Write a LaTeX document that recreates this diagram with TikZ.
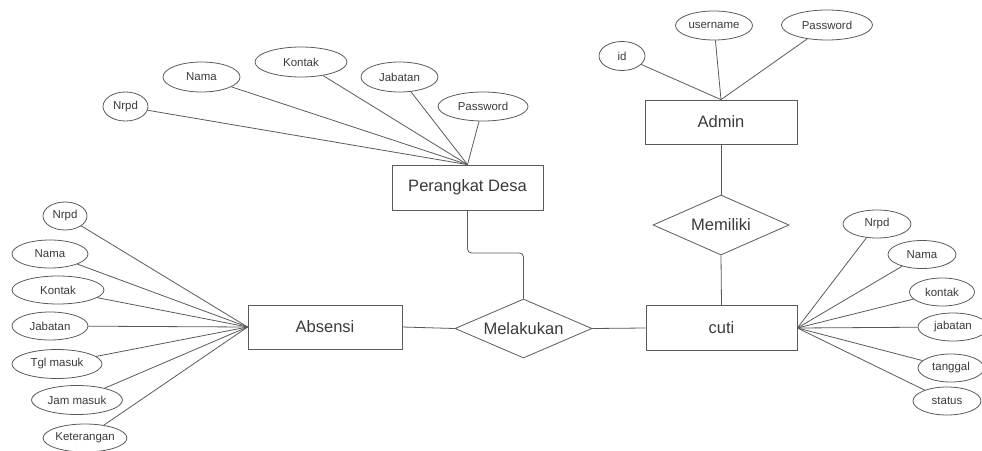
\documentclass[tikz,border=0pt]{standalone}
\usepackage{fontspec}
\setmainfont{Liberation Sans}
\usetikzlibrary{shapes.geometric}
\definecolor{ln}{HTML}{5A5A5A}
\definecolor{tx}{HTML}{3A3A3A}
\begin{document}
\begin{tikzpicture}[x=0.75pt,y=-0.75pt,
  wh/.style 2 args={minimum width=#1*0.75pt, minimum height=#2*0.75pt},
  attr/.style={draw=ln, ellipse, inner sep=0pt, text=tx, line width=0.6pt, font=\fontsize{8.6}{10}\selectfont},
  ent/.style={draw=ln, rectangle, inner sep=0pt, text=tx, line width=0.6pt, font=\fontsize{12.4}{14}\selectfont},
  rel/.style={draw=ln, diamond, aspect=2.3, inner sep=0pt, text=tx, line width=0.6pt, font=\fontsize{12.4}{14}\selectfont},
  conn/.style={draw=ln, line width=0.6pt}]
\useasboundingbox (0,0) rectangle (982,450);

% entities
\node[ent, wh={151}{45}] (pd) at (467.5,187.5) {Perangkat Desa};
\node[ent, wh={152}{44}] (admin) at (721,122) {Admin};
\node[ent, wh={154}{44}] (abs) at (325,327) {Absensi};
\node[ent, wh={151}{45}] (cuti) at (721.5,328) {cuti};

% relations
\node[rel, wh={136}{60}] (mem) at (721,225) {Memiliki};
\node[rel, wh={137}{59}] (mel) at (523.5,328.5) {Melakukan};

% Perangkat Desa attributes
\node[attr, wh={45}{29}] (pd1) at (125.5,106.5) {Nrpd};
\node[attr, wh={77}{30}] (pd2) at (201.5,77) {Nama};
\node[attr, wh={92}{30}] (pd3) at (301,62) {Kontak};
\node[attr, wh={77}{30}] (pd4) at (399.5,77) {Jabatan};
\node[attr, wh={90}{29}] (pd5) at (483,106.5) {Password};

% Admin attributes
\node[attr, wh={46}{29}] (ad1) at (622,56) {id};
\node[attr, wh={77}{29}] (ad2) at (714,25.5) {username};
\node[attr, wh={91}{30}] (ad3) at (827,25) {Password};

% Absensi attributes
\node[attr, wh={44}{28}] (ab1) at (65,216) {Nrpd};
\node[attr, wh={76}{28}] (ab2) at (50,254) {Nama};
\node[attr, wh={92}{28}] (ab3) at (58,290) {Kontak};
\node[attr, wh={76}{28}] (ab4) at (50,326) {Jabatan};
\node[attr, wh={90}{29}] (ab5) at (57,364) {Tgl masuk};
\node[attr, wh={91}{29}] (ab6) at (77,400) {Jam masuk};
\node[attr, wh={78}{28}] (ab7) at (85,438) {Keterangan};

% cuti attributes
\node[attr, wh={68}{28}] (cu1) at (877,224) {Nrpd};
\node[attr, wh={68}{28}] (cu2) at (922,254.5) {Nama};
\node[attr, wh={65}{28}] (cu3) at (942,292) {kontak};
\node[attr, wh={70}{28}] (cu4) at (953,327) {jabatan};
\node[attr, wh={66}{28}] (cu5) at (951,368) {tanggal};
\node[attr, wh={68}{28}] (cu6) at (947,401) {status};

% connectors
\foreach \a in {pd1,pd2,pd3,pd4,pd5} \draw[conn] (\a) -- (pd.north);
\foreach \a in {ad1,ad2,ad3} \draw[conn] (\a) -- (admin.north);
\foreach \a in {ab1,ab2,ab3,ab4,ab5,ab6,ab7} \draw[conn] (\a) -- (abs.west);
\foreach \a in {cu1,cu2,cu3,cu4,cu5,cu6} \draw[conn] (\a) -- (cuti.east);

\draw[conn] (admin.south) -- (mem.north);
\draw[conn] (mem.south) -- (cuti.north);
\draw[conn] (abs.east) -- (mel.west);
\draw[conn] (mel.east) -- (cuti.west);
\draw[conn, rounded corners=3pt] (pd.south) -- (pd.south |- 0,253) -- (mel.north |- 0,253) -- (mel.north);
\end{tikzpicture}
\end{document}
